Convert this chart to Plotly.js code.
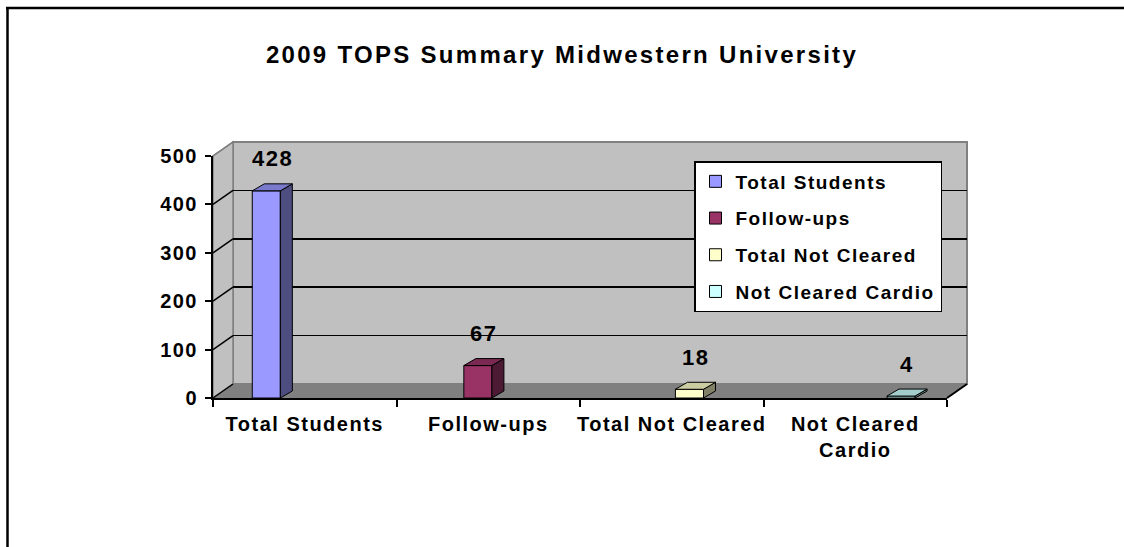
<!DOCTYPE html>
<html><head><meta charset="utf-8">
<script src="https://cdn.plot.ly/plotly-3.0.1.min.js"></script>
<style>
html,body{margin:0;padding:0;background:#fff;}
#chart{width:1124px;height:547px;}
svg text{letter-spacing:1.5px;}
svg text.gtitle{letter-spacing:2.3px;}
</style></head><body><div id="chart"></div>
<script>
// ---- data ----
const categories = ['Total Students', 'Follow-ups', 'Total Not Cleared', 'Not Cleared Cardio'];
const tickLabels = ['Total Students', 'Follow-ups', 'Total Not Cleared', 'Not Cleared<br>Cardio'];
const seriesNames = ['Total Students', 'Follow-ups', 'Total Not Cleared', 'Not Cleared Cardio'];
const seriesValues = [428, 67, 18, 4];
const yTicks = [0, 100, 200, 300, 400, 500];

// ---- styles ----
const frontColors = ['#9999FF', '#993366', '#FFFFCC', '#CCFFFF'];
const sideColors  = ['#4D4D80', '#4D1A33', '#808066', '#668080'];
const topColors   = ['#7A7ACC', '#7A2952', '#CCCCA3', '#A3CCCC'];
const FONT = 'Liberation Sans, Arial, sans-serif';

// geometry (pixels)
const L = 213, R = 967, T = 142, B = 398, FIG_W = 1124, FIG_H = 547;
const W = R - L, H = B - T;
const DX = 20, DY = 14;            // wall depth offset
const frontX = (W - DX) / W, frontY = (H - DY) / H;
const yMax = 500;
const pxPerX = (W - DX) / categories.length;
const pxPerY = (H - DY) / yMax;
const barW = 0.153;                 // bar width in category units
const bdx = 12 / pxPerX, bdy = 7 / pxPerY; // bar depth
const nS = seriesNames.length;

const traces = [{type: 'scatter', x: [], y: [], xaxis: 'x', yaxis: 'y', showlegend: false, hoverinfo: 'skip'}];
const shapes = [];
const annotations = [];

// walls (paper coords)
shapes.push({type: 'rect', xref: 'paper', yref: 'paper', x0: DX / W, x1: 1, y0: DY / H, y1: 1,
  fillcolor: '#C0C0C0', line: {color: '#808080', width: 2}, layer: 'below'});
shapes.push({type: 'path', xref: 'paper', yref: 'paper', layer: 'below',
  path: `M0,0 L${DX / W},${DY / H} L${DX / W},1 L0,${frontY} Z`,
  fillcolor: '#C0C0C0', line: {color: '#808080', width: 1.5}});
shapes.push({type: 'path', xref: 'paper', yref: 'paper', layer: 'below',
  path: `M0,0 L${DX / W},${DY / H} L1,${DY / H} L${frontX},0 Z`,
  fillcolor: '#808080', line: {color: '#808080', width: 1}});
yTicks.forEach(v => {
  shapes.push({type: 'line', xref: 'paper', yref: 'paper', layer: 'below',
    x0: 0, y0: v / yMax * frontY, x1: DX / W, y1: DY / H + v / yMax * (1 - DY / H),
    line: {color: v === yMax ? '#808080' : '#000', width: 1.5}});
});
shapes.push({type: 'line', xref: 'paper', yref: 'paper', x0: frontX, y0: 0, x1: 1, y1: DY / H,
  line: {color: '#000', width: 2}});
// outer frame (left and top edges)
shapes.push({type: 'line', xref: 'paper', yref: 'paper',
  x0: (7.5 - L) / W, x1: (7.5 - L) / W, y0: (B - FIG_H - 10) / H, y1: (B - 7) / H,
  line: {color: '#000', width: 2.5}});
shapes.push({type: 'line', xref: 'paper', yref: 'paper',
  x0: (6 - L) / W, x1: (FIG_W + 10 - L) / W, y0: (B - 8) / H, y1: (B - 8) / H,
  line: {color: '#000', width: 2.5}});

// bars
seriesNames.forEach((name, j) => {
  const v = seriesValues[j];
  const off = -0.5 + (1 - nS * barW) / 2 + j * barW + 0.02;
  traces.push({type: 'bar', name: name, x: [j], y: [v], xaxis: 'x2', yaxis: 'y2',
    width: [barW], offset: [off], legendgroup: 'g' + j,
    marker: {color: frontColors[j], line: {color: '#000', width: 1}}, hoverinfo: 'y'});
  const xl = j + off, xr = xl + barW;
  shapes.push({type: 'path', xref: 'x2', yref: 'y2',
    path: `M${xr},0 L${xr + bdx},${bdy} L${xr + bdx},${v + bdy} L${xr},${v} Z`,
    fillcolor: sideColors[j], line: {color: '#000', width: 1}});
  shapes.push({type: 'path', xref: 'x2', yref: 'y2',
    path: `M${xl},${v} L${xl + bdx},${v + bdy} L${xr + bdx},${v + bdy} L${xr},${v} Z`,
    fillcolor: topColors[j], line: {color: '#000', width: 1}});
  annotations.push({xref: 'x2', yref: 'y2', x: xl + barW / 2 + bdx / 2, y: v + bdy,
    text: String(v), showarrow: false, yshift: 25,
    font: {family: FONT, size: 22, color: '#000', weight: 'bold'}});
});

const tickFont = {family: FONT, size: 20, color: '#000', weight: 'bold'};
const layout = {
  width: FIG_W, height: FIG_H,
  paper_bgcolor: '#fff', plot_bgcolor: 'rgba(0,0,0,0)',
  margin: {l: L, r: FIG_W - R, t: T, b: FIG_H - B, autoexpand: false},
  title: {text: '2009 TOPS Summary Midwestern University', x: 0.5, xref: 'container',
    y: 1 - 55 / FIG_H, yref: 'container', yanchor: 'middle', xanchor: 'center',
    font: {family: FONT, size: 24, color: '#000', weight: 'bold'}},
  barmode: 'overlay',
  showlegend: true,
  legend: {x: (694 - L) / W, y: (B - 161) / H, xanchor: 'left', yanchor: 'top',
    bgcolor: '#fff', bordercolor: '#000', borderwidth: 1.5,
    font: {family: FONT, size: 19, color: '#000', weight: 'bold'},
    tracegroupgap: 9, itemwidth: 30, traceorder: 'grouped'},
  xaxis: {domain: [DX / W, 1], range: [-0.5, categories.length - 0.5], anchor: 'y',
    showgrid: false, showticklabels: false, ticks: '', showline: false, zeroline: false, fixedrange: true},
  yaxis: {domain: [DY / H, 1], range: [0, yMax], anchor: 'x',
    tickmode: 'array', tickvals: yTicks.slice(1, -1), showticklabels: false, ticks: '',
    showgrid: true, gridcolor: '#000', gridwidth: 1.5, zeroline: false, showline: false, fixedrange: true},
  xaxis2: {domain: [0, frontX], range: [-0.5, categories.length - 0.5], anchor: 'y2',
    tickmode: 'array', tickvals: categories.map((c, i) => i), ticktext: tickLabels,
    ticks: '', showline: true, linecolor: '#000', linewidth: 2, showgrid: false, zeroline: false,
    tickfont: tickFont, ticklabelstandoff: 7,
    minor: {tickmode: 'array', tickvals: categories.map((c, i) => i - 0.5).concat([categories.length - 0.5]),
      ticks: 'outside', ticklen: 7, tickwidth: 2, tickcolor: '#000', showgrid: false},
    fixedrange: true},
  yaxis2: {domain: [0, frontY], range: [0, yMax], anchor: 'x2',
    tickmode: 'array', tickvals: yTicks, ticks: 'outside', ticklen: 6, tickwidth: 2, tickcolor: '#000',
    showline: true, linecolor: '#000', linewidth: 2, showgrid: false, zeroline: false,
    tickfont: tickFont, ticklabelstandoff: 3, fixedrange: true},
  shapes: shapes,
  annotations: annotations
};
Plotly.newPlot('chart', traces, layout, {displayModeBar: false, staticPlot: true});
</script></body></html>
